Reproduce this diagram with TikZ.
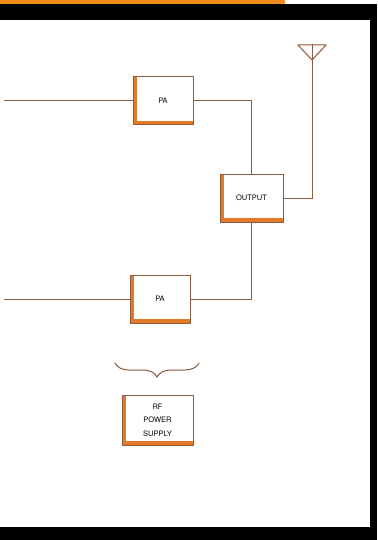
\documentclass[tikz,border=0pt]{standalone}
\usepackage{fontspec}
\setsansfont{TeX Gyre Heros}
\usepackage{tikz}
\usepackage{xcolor}
\usetikzlibrary{decorations.pathreplacing}
\definecolor{wire}{RGB}{140,90,60}
\definecolor{edge}{RGB}{226,122,40}
\definecolor{strip}{RGB}{240,140,30}

\begin{document}
\begin{tikzpicture}[x=1pt,y=-1pt,
  wire/.style={draw=wire,line width=1pt},
  blockbox/.style={wire,fill=white,font=\sffamily\fontsize{7.5}{13.5}\selectfont,align=center,
    inner sep=0pt,minimum width=#1,minimum height=48pt,
    path picture={\fill[edge] (path picture bounding box.north west) rectangle
      ([xshift=4pt]path picture bounding box.south west);
      \fill[edge] (path picture bounding box.south west) rectangle
      ([yshift=4pt]path picture bounding box.south east);}},
  blockbox/.default=60pt]
\useasboundingbox (0,0) rectangle (377,540);
\fill[white] (0,0) rectangle (377,540);
\fill[strip] (0,0) rectangle (285,4);
\fill[black] (0,4) rectangle (377,20);
\fill[black] (370,20) rectangle (377,540);
\fill[black] (0,527) rectangle (377,540);

\node[blockbox] (pa1) at (163,101) {PA};
\node[blockbox] (pa2) at (160,299) {PA};
\node[blockbox=63pt] (out) at (251.5,198) {OUTPUT};
\node[blockbox=71pt,minimum height=50pt] (rf) at (157.5,420) {RF\\POWER\\SUPPLY};
\coordinate (in1) at (4,101);
\coordinate (in2) at (4,299);
\coordinate (ant) at (312,44);
\coordinate (bl) at (115,363);
\coordinate (br) at (199,363);

\draw[wire] (in1) -- (pa1.west);
\draw[wire] (in2) -- (pa2.west);
\draw[wire] (pa1.east) -| (out.north);
\draw[wire] (pa2.east) -| (out.south);
\draw[wire] (out.east) -| (ant);
\draw[wire,line join=round] (298,45) -- (326,45) -- (312,60) -- cycle;
\draw[wire,decorate,decoration={brace,mirror,amplitude=14pt}] (bl) -- (br);
\end{tikzpicture}
\end{document}
